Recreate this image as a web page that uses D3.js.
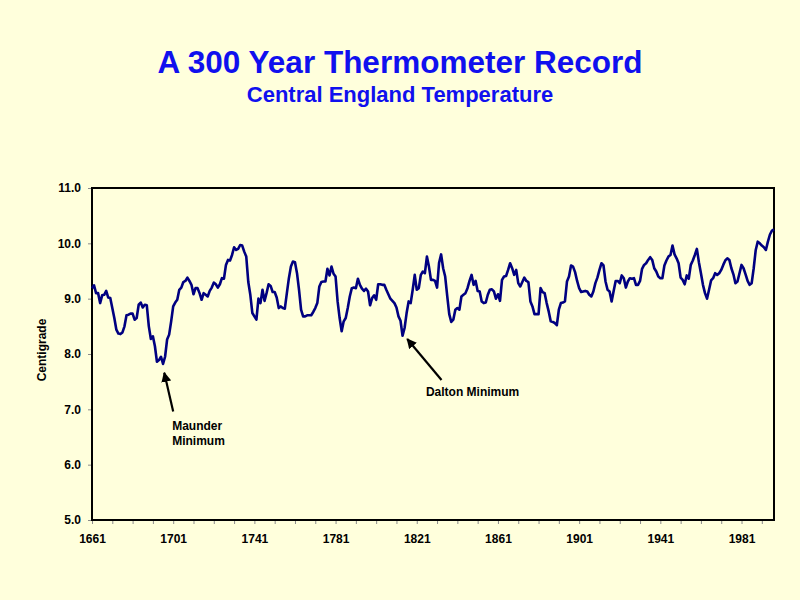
<!DOCTYPE html>
<html>
<head>
<meta charset="utf-8">
<script src="https://cdn.jsdelivr.net/npm/d3@7"></script>
<style>
  html, body { margin: 0; padding: 0; background: #FFFFDC; }
  svg { display: block; }
  text { font-family: Arial, "Liberation Sans", Helvetica, sans-serif; }
</style>
</head>
<body>
<svg id="chart" width="800" height="600"></svg>
<script>
// ---------- data ----------
const startYear = 1661;
const temps = [
  9.19, 9.24, 9.10, 9.10, 8.92, 9.06, 9.07, 9.14, 9.02, 9.01, // 1661-1670
  8.83, 8.65, 8.44, 8.37, 8.36, 8.39, 8.50, 8.70, 8.71, 8.73, // 1671-1680
  8.73, 8.62, 8.65, 8.89, 8.93, 8.84, 8.89, 8.88, 8.50, 8.27, // 1681-1690
  8.32, 8.14, 7.86, 7.89, 7.95, 7.82, 7.95, 8.26, 8.35, 8.59, // 1691-1700
  8.86, 8.93, 8.98, 9.16, 9.20, 9.30, 9.32, 9.38, 9.32, 9.25, // 1701-1710
  9.08, 9.19, 9.19, 9.10, 8.98, 9.10, 9.07, 9.04, 9.14, 9.20, // 1711-1720
  9.29, 9.26, 9.20, 9.26, 9.37, 9.36, 9.61, 9.70, 9.69, 9.79, // 1721-1730
  9.93, 9.88, 9.90, 9.97, 9.96, 9.85, 9.76, 9.30, 9.07, 8.74, // 1731-1740
  8.68, 8.62, 9.00, 8.92, 9.16, 8.96, 9.10, 9.26, 9.23, 9.12, // 1741-1750
  9.12, 9.02, 8.83, 8.86, 8.83, 8.82, 9.10, 9.37, 9.58, 9.67, // 1751-1760
  9.66, 9.46, 9.16, 8.80, 8.68, 8.68, 8.70, 8.70, 8.70, 8.76, // 1761-1770
  8.83, 8.92, 9.22, 9.30, 9.31, 9.31, 9.54, 9.42, 9.58, 9.45, // 1771-1780
  9.40, 8.95, 8.65, 8.41, 8.59, 8.65, 8.83, 9.04, 9.19, 9.20, // 1781-1790
  9.19, 9.36, 9.25, 9.18, 9.14, 9.18, 9.13, 8.88, 9.01, 9.06, // 1791-1800
  8.98, 9.26, 9.26, 9.25, 9.25, 9.16, 9.08, 9.00, 8.96, 8.92, // 1801-1810
  8.84, 8.68, 8.60, 8.33, 8.47, 8.74, 8.95, 8.92, 9.16, 9.43, // 1811-1820
  9.16, 9.19, 9.43, 9.49, 9.46, 9.76, 9.58, 9.34, 9.34, 9.32, // 1821-1830
  9.20, 9.65, 9.80, 9.55, 9.40, 9.05, 8.72, 8.58, 8.62, 8.80, // 1831-1840
  8.83, 8.80, 9.04, 9.07, 9.10, 9.19, 9.32, 9.43, 9.25, 9.32, // 1841-1850
  9.14, 9.13, 8.95, 8.92, 8.93, 9.07, 9.16, 9.17, 9.13, 9.00, // 1851-1860
  9.08, 8.96, 9.34, 9.40, 9.41, 9.52, 9.64, 9.55, 9.43, 9.52, // 1861-1870
  9.28, 9.22, 9.30, 9.38, 9.32, 9.30, 8.95, 8.86, 8.72, 8.72, // 1871-1880
  8.72, 9.19, 9.12, 9.10, 8.92, 8.77, 8.59, 8.58, 8.56, 8.52, // 1881-1890
  8.80, 8.92, 8.93, 8.95, 9.31, 9.40, 9.60, 9.58, 9.48, 9.32, // 1891-1900
  9.19, 9.12, 9.13, 9.14, 9.13, 9.07, 9.04, 9.13, 9.28, 9.38, // 1901-1910
  9.52, 9.64, 9.60, 9.31, 9.16, 9.13, 8.95, 9.14, 9.32, 9.32, // 1911-1920
  9.28, 9.42, 9.37, 9.20, 9.31, 9.37, 9.36, 9.37, 9.25, 9.25, // 1921-1930
  9.32, 9.54, 9.61, 9.64, 9.70, 9.75, 9.70, 9.55, 9.49, 9.40, // 1931-1940
  9.37, 9.37, 9.60, 9.69, 9.76, 9.79, 9.96, 9.80, 9.73, 9.64, // 1941-1950
  9.38, 9.34, 9.26, 9.42, 9.36, 9.61, 9.69, 9.79, 9.90, 9.66, // 1951-1960
  9.46, 9.25, 9.10, 9.00, 9.16, 9.33, 9.37, 9.46, 9.43, 9.46, // 1961-1970
  9.52, 9.61, 9.69, 9.73, 9.70, 9.55, 9.44, 9.28, 9.31, 9.46, // 1971-1980
  9.61, 9.55, 9.44, 9.32, 9.25, 9.28, 9.55, 9.88, 10.03, 10.00, // 1981-1990
  9.96, 9.93, 9.88, 10.03, 10.16, 10.23, 10.25                // 1991-1997
];
const years = temps.map((_, i) => startYear + i);

const yTicks = [5, 6, 7, 8, 9, 10, 11];
const xMinorTicks = d3.range(1661, 1997, 10);
const xLabelTicks = [1661, 1701, 1741, 1781, 1821, 1861, 1901, 1941, 1981];

const titleText = "A 300 Year Thermometer Record";
const subtitleText = "Central England Temperature";
const yAxisTitle = "Centigrade";

// annotations: [label lines], text anchor (year, value), arrow tail/tip (year, value)
const annoLabels = [["Maunder", "Minimum"], ["Dalton Minimum"]];
const annoTextPos = [[1700.5, 6.63], [1825.5, 7.24]];
const annoArrowTail = [[1701.0, 6.96], [1833.2, 7.53]];
const annoArrowTip = [[1696.6, 7.66], [1816.3, 8.27]];

// ---------- drawing ----------
const svg = d3.select("#chart");
const plotLeft = 92, plotRight = 774, plotTop = 188, plotBottom = 520;

const x = d3.scaleLinear().domain([years[0], years[years.length - 1]]).range([plotLeft, plotRight]);
const y = d3.scaleLinear().domain([5, 11]).range([plotBottom, plotTop]);

svg.append("rect").attr("width", 800).attr("height", 600).attr("fill", "#FFFFDC");

// titles
svg.append("text").attr("x", 400).attr("y", 73).attr("text-anchor", "middle")
  .attr("font-size", 31.5).attr("font-weight", "bold").attr("fill", "#1010EE").text(titleText);
svg.append("text").attr("x", 400).attr("y", 102).attr("text-anchor", "middle")
  .attr("font-size", 22).attr("font-weight", "bold").attr("fill", "#1010EE").text(subtitleText);

// axes
const xAxis = d3.axisBottom(x).tickValues(xMinorTicks).tickSize(4).tickPadding(10)
  .tickFormat(d => xLabelTicks.includes(d) ? String(d) : "");
const gx = svg.append("g").attr("transform", `translate(0,${plotBottom})`).call(xAxis);
gx.select(".domain").remove();
gx.selectAll(".tick line").attr("stroke", "#8a8a8a").attr("stroke-width", 1);
gx.selectAll(".tick text").attr("font-size", 12).attr("font-weight", "bold").attr("fill", "#000")
  .attr("font-family", 'Arial, "Liberation Sans", sans-serif');

const yAxis = d3.axisLeft(y).tickValues(yTicks).tickSize(4).tickPadding(7).tickFormat(d3.format(".1f"));
const gy = svg.append("g").attr("transform", `translate(${plotLeft},0)`).call(yAxis);
gy.select(".domain").remove();
gy.selectAll(".tick line").attr("stroke", "#8a8a8a").attr("stroke-width", 1);
gy.selectAll(".tick text").attr("font-size", 12).attr("font-weight", "bold").attr("fill", "#000")
  .attr("font-family", 'Arial, "Liberation Sans", sans-serif');

// plot frame
svg.append("rect").attr("x", plotLeft).attr("y", plotTop)
  .attr("width", plotRight - plotLeft).attr("height", plotBottom - plotTop)
  .attr("fill", "none").attr("stroke", "#000").attr("stroke-width", 2);

// y axis title
svg.append("text").attr("transform", `translate(46,${(plotTop + plotBottom) / 2 - 4}) rotate(-90)`)
  .attr("text-anchor", "middle").attr("font-size", 12).attr("font-weight", "bold").attr("fill", "#000")
  .text(yAxisTitle);

// line
const line = d3.line().x((d, i) => x(years[i])).y(d => y(d));
svg.append("path").datum(temps).attr("d", line).attr("fill", "none")
  .attr("stroke", "#000080").attr("stroke-width", 2.6).attr("stroke-linejoin", "round");

// annotations
const defs = svg.append("defs");
defs.append("marker").attr("id", "arrow").attr("markerUnits", "userSpaceOnUse")
  .attr("viewBox", "0 0 10 10").attr("refX", 9).attr("refY", 5)
  .attr("markerWidth", 10).attr("markerHeight", 10).attr("orient", "auto")
  .append("path").attr("d", "M0,0 L10,5 L0,10 z").attr("fill", "#000");

annoLabels.forEach((lines, i) => {
  svg.append("line")
    .attr("x1", x(annoArrowTail[i][0])).attr("y1", y(annoArrowTail[i][1]))
    .attr("x2", x(annoArrowTip[i][0])).attr("y2", y(annoArrowTip[i][1]))
    .attr("stroke", "#000").attr("stroke-width", 2.2).attr("marker-end", "url(#arrow)");
  const t = svg.append("text").attr("x", x(annoTextPos[i][0])).attr("y", y(annoTextPos[i][1]))
    .attr("font-size", 12).attr("font-weight", "bold").attr("fill", "#000");
  lines.forEach((l, j) => {
    t.append("tspan").attr("x", x(annoTextPos[i][0])).attr("dy", j === 0 ? 0 : 15).text(l);
  });
});
</script>
</body>
</html>
